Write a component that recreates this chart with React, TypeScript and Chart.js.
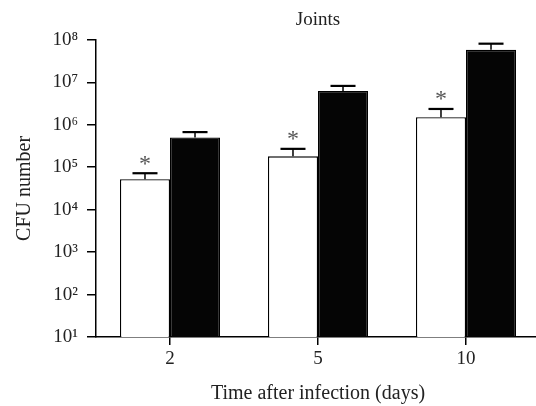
import React, { useEffect, useRef } from "react";
import { Chart, registerables } from "chart.js";

Chart.register(...registerables);

const categories = ["2", "5", "10"];
const whiteMeans = [5.2e4, 1.8e5, 1.5e6];
const whiteUpper = [7.2e4, 2.7e5, 2.35e6];
const blackMeans = [5.0e5, 6.2e6, 5.8e7];
const blackUpper = [6.7e5, 8.2e6, 8.1e7];
const stars = ["*", "*", "*"];
const yTickValues = [1e1, 1e2, 1e3, 1e4, 1e5, 1e6, 1e7, 1e8];
const supers: Record<string, string> = { "0": "⁰", "1": "¹", "2": "²", "3": "³", "4": "⁴", "5": "⁵", "6": "⁶", "7": "⁷", "8": "⁸", "9": "⁹" };

const FONT = "'Liberation Serif', 'DejaVu Serif', serif";

const errPlugin = {
  id: "errbars",
  afterDatasetsDraw(chart: any) {
    const ctx = chart.ctx;
    const y = chart.scales.y;
    [whiteUpper, blackUpper].forEach((upper, di) => {
      const meta = chart.getDatasetMeta(di);
      meta.data.forEach((bar: any, i: number) => {
        const x = bar.x;
        const top = bar.y;
        const capY = y.getPixelForValue(upper[i]);
        const half = bar.width / 4;
        ctx.save();
        ctx.strokeStyle = "#000";
        ctx.lineWidth = 1.5;
        ctx.beginPath();
        ctx.moveTo(x, top);
        ctx.lineTo(x, capY);
        ctx.stroke();
        ctx.lineWidth = 2.2;
        ctx.beginPath();
        ctx.moveTo(x - half, capY);
        ctx.lineTo(x + half, capY);
        ctx.stroke();
        ctx.restore();
        if (di === 0 && stars[i]) {
          ctx.save();
          ctx.fillStyle = "#555";
          ctx.font = `24px ${FONT}`;
          ctx.textAlign = "center";
          ctx.textBaseline = "middle";
          ctx.fillText(stars[i], x, capY - 9);
          ctx.restore();
        }
      });
    });
  },
};

export default function App() {
  const ref = useRef<HTMLCanvasElement>(null);
  useEffect(() => {
    if (!ref.current) return;
    const chart = new Chart(ref.current, {
      type: "bar",
      data: {
        labels: categories,
        datasets: [
          {
            data: whiteMeans,
            backgroundColor: "#ffffff",
            borderColor: "#000000",
            borderWidth: 1.3,
            categoryPercentage: 0.676,
            barPercentage: 1,
          },
          {
            data: blackMeans,
            backgroundColor: "#050505",
            borderColor: "#000000",
            borderWidth: 1.3,
            categoryPercentage: 0.676,
            barPercentage: 1,
          },
        ],
      },
      options: {
        animation: false,
        responsive: false,
        maintainAspectRatio: false,
        layout: { padding: 0 },
        plugins: {
          legend: { display: false },
          tooltip: { enabled: false },
          title: {
            display: true,
            text: "Joints",
            fullSize: false,
            color: "#222",
            font: { family: FONT, size: 19, weight: "normal" },
            padding: { top: 9, bottom: 8 },
          },
        },
        scales: {
          x: {
            grid: { display: true, drawOnChartArea: false, drawTicks: true, tickLength: 8, color: "#000", lineWidth: 1.5, offset: false },
            border: { display: true, color: "#000", width: 1.5 },
            ticks: { color: "#222", font: { family: FONT, size: 19 }, padding: 3 },
            title: {
              display: true,
              text: "Time after infection (days)",
              color: "#222",
              font: { family: FONT, size: 20 },
              padding: { top: 0, bottom: 0 },
            },
            afterFit: (s: any) => {
              s.height = 69;
            },
          },
          y: {
            type: "logarithmic",
            min: 10,
            max: 1e8,
            grid: { display: true, drawOnChartArea: false, drawTicks: true, tickLength: 9, color: "#000", lineWidth: 1.5 },
            border: { display: true, color: "#000", width: 1.5 },
            afterBuildTicks: (s: any) => {
              s.ticks = yTickValues.map((v) => ({ value: v, major: true }));
            },
            ticks: {
              color: "#222",
              font: { family: FONT, size: 19 },
              padding: 9,
              autoSkip: false,
              callback: (v: any) => {
                const e = Math.round(Math.log10(Number(v)));
                return "10" + String(e).split("").map((c) => supers[c]).join("");
              },
            },
            title: {
              display: true,
              text: "CFU number",
              color: "#222",
              font: { family: FONT, size: 20 },
              padding: { top: 13, bottom: 0 },
            },
            afterFit: (s: any) => {
              s.width = 96;
            },
          },
        },
      },
      plugins: [errPlugin],
    } as any);
    return () => chart.destroy();
  }, []);
  return (
    <div style={{ position: "absolute", left: 0, top: 0, width: 536, height: 406, overflow: "hidden", background: "#fff" }}>
      <canvas ref={ref} width={540} height={406} style={{ display: "block", width: 540, height: 406 }} />
    </div>
  );
}
